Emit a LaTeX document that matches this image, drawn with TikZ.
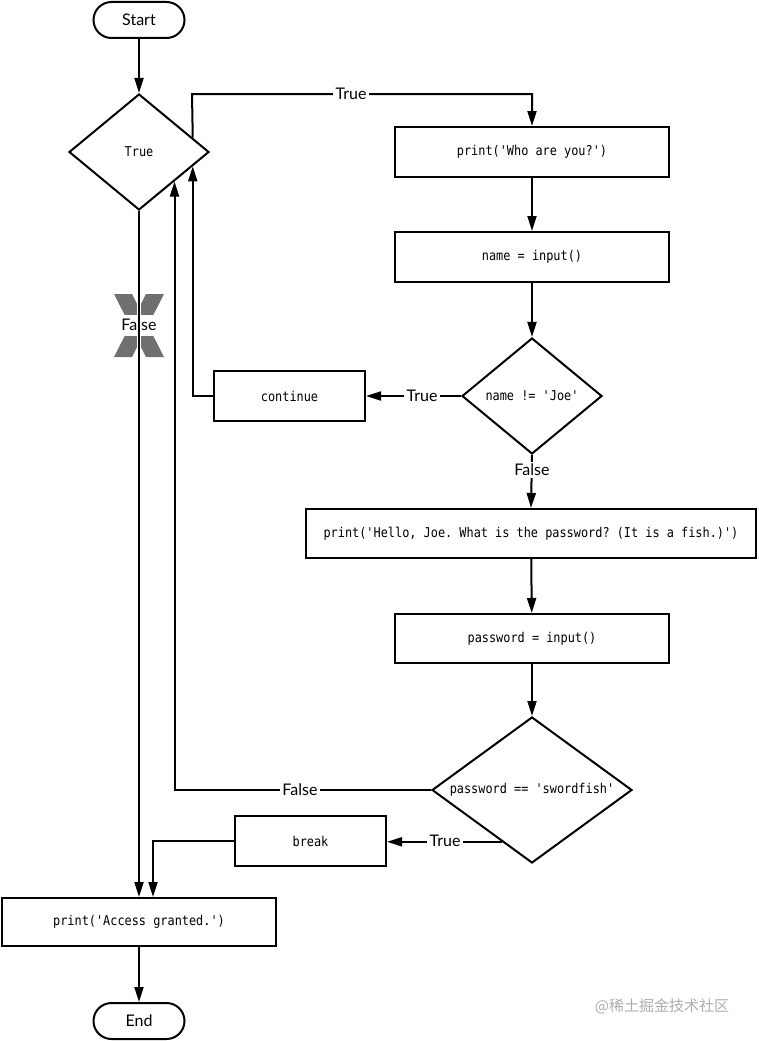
\documentclass[tikz,border=0pt]{standalone}
\usepackage{fontspec}
\setmainfont{Lato}
\setmonofont[FakeStretch=0.88]{DejaVu Sans Mono}
\newfontfamily\cjk{Noto Sans CJK SC}
\usetikzlibrary{arrows.meta,shapes.geometric,calc}
\definecolor{xgray}{HTML}{707070}
\begin{document}
\begin{tikzpicture}[x=1pt,y=-1pt,
 line width=2pt,
 arr/.style={-{Triangle[length=15pt,width=9pt]}},
 box/.style={draw, rectangle, inner sep=0pt, font=\ttfamily\fontsize{13.5}{16}\selectfont},
 term/.style={draw, rounded corners=18pt, minimum width=91pt, minimum height=36pt, inner sep=0pt, font=\fontsize{16}{19}\selectfont},
 dec/.style={draw, diamond, inner sep=0pt, font=\ttfamily\fontsize{13.5}{16}\selectfont},
 lbl/.style={fill=white, inner sep=2.5pt, font=\fontsize{16}{19}\selectfont}]
\useasboundingbox (0,0) rectangle (758,1041);

% nodes
\node[term] (start) at (139,20) {Start};
\node[dec, minimum width=140pt, minimum height=116pt] (d1) at (139,152) {True};
\node[box, minimum width=274pt, minimum height=50pt] (b1) at (532,152) {print('Who are you?')};
\node[box, minimum width=274pt, minimum height=50pt] (b2) at (532,257) {name = input()};
\node[dec, shape aspect=1.2, minimum width=140pt, minimum height=116pt] (d2) at (532,396) {name != 'Joe'};
\node[box, minimum width=151pt, minimum height=50pt] (cont) at (289.5,396) {continue};
\node[box, minimum width=450pt, minimum height=49pt] (b3) at (531,533.5) {print('Hello, Joe. What is the password? (It is a fish.)')};
\node[box, minimum width=274pt, minimum height=49pt] (b4) at (532,638.5) {password = input()};
\node[dec, shape aspect=1.38, minimum width=200pt, minimum height=146pt] (d3) at (532,790) {password == 'swordfish'};
\node[box, minimum width=151pt, minimum height=50pt] (brk) at (310.5,841) {break};
\node[box, minimum width=274pt, minimum height=48pt] (acc) at (139,922) {print('Access granted.')};
\node[term] (end) at (139,1021) {End};

% X marker on the False branch
\fill[xgray] (114,294) -- (132,294) -- (164,357) -- (146,357) -- cycle;
\fill[xgray] (146,294) -- (164,294) -- (132,357) -- (114,357) -- cycle;
\fill[white] (106,315) rectangle (172,336);
\draw[white, line width=4.5pt] (139,294) -- (139,357);

% connectors
\draw[arr] (start) -- (d1);
\coordinate (t1) at ($(d1.north)!0.757!(d1.east)$);
\coordinate (c1) at (192,94);
\draw[arr] (t1) -- (c1) -| (b1.north);
\node[lbl] (lt1) at (351,94) {True};
\draw[arr] (b1) -- (b2);
\draw[arr] (b2) -- (d2);
\draw[arr] (d2.west) -- (cont.east);
\node[lbl] (lt2) at (422,396) {True};
\draw[arr] (cont.west) -| ($(d1.east)!0.243!(d1.south)$);
\draw[arr] (d2.south) -- (b3.north);
\node[lbl] (lf2) at (532,470) {False};
\draw[arr] (b3) -- (b4);
\draw[arr] (b4) -- (d3);
\draw[arr] (d3.west) -| ($(d1.east)!0.5!(d1.south)$);
\node[lbl] (lf3) at (300,790) {False};
\coordinate (t3) at ($(d3.west)!0.7!(d3.south)$);
\draw[arr] (t3) -- (t3 -| brk.east);
\node[lbl] (lt3) at (445,841) {True};
\draw[arr] (brk.west) -| ($(acc.north)+(14,0)$);
\draw[arr] (d1.south) -- (acc.north);
\node[lbl, fill=none] (lf1) at (139,325) {False};
\draw[arr] (acc) -- (end);

% watermark
\node[font=\cjk\fontsize{15}{18}\selectfont, text=black!32] (wm) at (662,1006) {@稀土掘金技术社区};
\end{tikzpicture}
\end{document}
